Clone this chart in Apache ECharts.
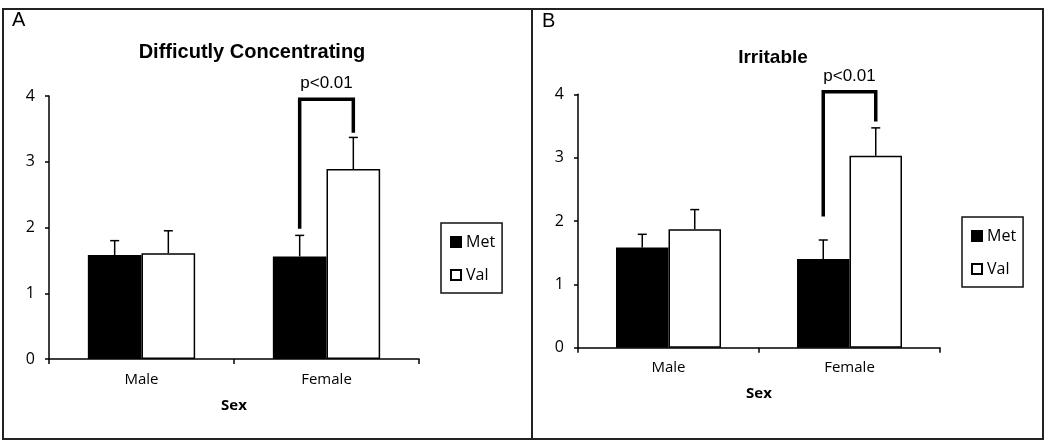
<!DOCTYPE html>
<html><head><meta charset="utf-8">
<script src="https://cdn.jsdelivr.net/npm/echarts@6/dist/echarts.min.js"></script>
<style>html,body{margin:0;padding:0;background:#fff}#c{width:1050px;height:444px}</style>
</head><body><div id="c"></div>
<script>
// ---- data ----
const categories = ['Male', 'Female'];
const seriesNames = ['Met', 'Val'];
const yTicks = [0, 1, 2, 3, 4];
const titleA = 'Difficutly Concentrating';
const titleB = 'Irritable';
const panelA = 'A';
const panelB = 'B';
const xName = 'Sex';
const aMet = [1.58, 1.56];
const aMetErr = [0.22, 0.32];
const aVal = [1.61, 2.89];
const aValErr = [0.34, 0.48];
const bMet = [1.58, 1.40];
const bMetErr = [0.21, 0.30];
const bVal = [1.87, 3.03];
const bValErr = [0.31, 0.44];
const sigLabel = 'p<0.01';
// category index, left leg bottom, bracket top, right leg bottom
const aSig = [1, 1.98, 3.95, 3.44];
const bSig = [1, 2.07, 4.04, 3.57];

// ---- chart ----
const GAP = 0.42;
const LABEL_FONT = '"Open Sans", Lato, sans-serif';
const ARIAL = '"Liberation Sans", Arial, sans-serif';

function barCenter(api, idx, which) {
  const c = api.coord([idx, 0]);
  const band = api.size([1, 0])[0];
  const bw = band * (1 - GAP) / 2;
  return c[0] + which * bw / 2;
}

function barSeries(name, g, vals, fill) {
  return {
    type: 'bar', name: name, xAxisIndex: g, yAxisIndex: g, data: vals,
    barGap: '0%', barCategoryGap: (GAP * 100) + '%',
    itemStyle: { color: fill, borderColor: '#000', borderWidth: 1.5 },
    silent: true
  };
}

function errSeries(name, g, vals, errs, which) {
  return {
    type: 'custom', name: name + ' err', xAxisIndex: g, yAxisIndex: g, z: 3, silent: true,
    data: vals.map((v, i) => [i, v, errs[i]]),
    renderItem(params, api) {
      const i = api.value(0), v = api.value(1), e = api.value(2);
      const x = barCenter(api, i, which);
      const y0 = api.coord([i, v])[1];
      const y1 = api.coord([i, v + e])[1];
      return { type: 'group', children: [
        { type: 'line', shape: { x1: x, y1: y0, x2: x, y2: y1 }, style: { stroke: '#000', lineWidth: 1.5 } },
        { type: 'line', shape: { x1: x - 4.5, y1: y1, x2: x + 4.5, y2: y1 }, style: { stroke: '#000', lineWidth: 1.5 } }
      ]};
    }
  };
}

function sigSeries(g, sig, fs, off) {
  return {
    type: 'custom', name: 'sig' + g, xAxisIndex: g, yAxisIndex: g, clip: false, z: 4, silent: true,
    data: [sig],
    renderItem(params, api) {
      const i = api.value(0);
      const xl = barCenter(api, i, -1), xr = barCenter(api, i, 1);
      const yl = api.coord([i, api.value(1)])[1];
      const yt = api.coord([i, api.value(2)])[1];
      const yr = api.coord([i, api.value(3)])[1];
      return { type: 'group', children: [
        { type: 'polyline', shape: { points: [[xl, yl], [xl, yt], [xr, yt], [xr, yr]] },
          style: { stroke: '#000', lineWidth: 3.5, fill: null, lineJoin: 'miter' } },
        { type: 'text', style: { text: sigLabel, x: (xl + xr) / 2, y: yt - off, align: 'center', verticalAlign: 'middle',
          fontSize: fs, fontFamily: ARIAL, fill: '#000' } }
      ]};
    }
  };
}

function xAxis(g) {
  return {
    type: 'category', gridIndex: g, data: categories,
    axisLine: { lineStyle: { color: '#000', width: 1.5 } },
    axisTick: { show: true, alignWithLabel: false, length: 5, lineStyle: { color: '#000', width: 1.5 } },
    axisLabel: { interval: 0, margin: 13, fontSize: 15, color: '#000', fontFamily: LABEL_FONT },
    name: xName, nameLocation: 'middle', nameGap: 39,
    nameTextStyle: { fontSize: 15, fontWeight: 'bold', color: '#000', fontFamily: LABEL_FONT },
    splitLine: { show: false }
  };
}
function yAxis(g) {
  return {
    type: 'value', gridIndex: g, min: yTicks[0], max: yTicks[yTicks.length - 1], interval: 1,
    axisLine: { show: true, lineStyle: { color: '#000', width: 1.5 } },
    axisTick: { show: true, length: 4, lineStyle: { color: '#000', width: 1.5 } },
    axisLabel: { margin: 14, fontSize: 16, color: '#000', fontFamily: LABEL_FONT },
    splitLine: { show: false }
  };
}
function legend(left, top) {
  return {
    left: left, top: top, orient: 'vertical', data: seriesNames, icon: 'rect',
    itemWidth: 10, itemHeight: 10, itemGap: 17,
    padding: [11, 7, 10, 9], borderColor: '#111', borderWidth: 1.5, borderRadius: 0,
    textStyle: { fontSize: 16, color: '#000', fontFamily: LABEL_FONT },
    selectedMode: false
  };
}

const chart = echarts.init(document.getElementById('c'), null, { renderer: 'canvas' });
chart.setOption({
  animation: false,
  backgroundColor: '#fff',
  grid: [
    { left: 49, top: 96, width: 370, height: 263 },
    { left: 578, top: 94.3, width: 362, height: 253.4 }
  ],
  xAxis: [xAxis(0), xAxis(1)],
  yAxis: [yAxis(0), yAxis(1)],
  legend: [legend(441, 223), legend(962, 217)],
  series: [
    barSeries(seriesNames[0], 0, aMet, '#000'),
    barSeries(seriesNames[1], 0, aVal, '#fff'),
    barSeries(seriesNames[0], 1, bMet, '#000'),
    barSeries(seriesNames[1], 1, bVal, '#fff'),
    errSeries('A Met', 0, aMet, aMetErr, -1),
    errSeries('A Val', 0, aVal, aValErr, 1),
    errSeries('B Met', 1, bMet, bMetErr, -1),
    errSeries('B Val', 1, bVal, bValErr, 1),
    sigSeries(0, aSig, 17, 16),
    sigSeries(1, bSig, 17, 15)
  ],
  graphic: [
    { type: 'rect', shape: { x: 3, y: 9, width: 1040, height: 430 }, style: { stroke: '#222', lineWidth: 2, fill: null }, silent: true },
    { type: 'line', shape: { x1: 532, y1: 9, x2: 532, y2: 439 }, style: { stroke: '#222', lineWidth: 2 }, silent: true },
    { type: 'text', x: 12, y: 20, style: { text: panelA, fontSize: 20, fontFamily: ARIAL, fill: '#000', verticalAlign: 'middle' } },
    { type: 'text', x: 542, y: 21, style: { text: panelB, fontSize: 20, fontFamily: ARIAL, fill: '#000', verticalAlign: 'middle' } },
    { type: 'text', x: 252, y: 52, style: { text: titleA, fontSize: 20, fontWeight: 'bold', fontFamily: ARIAL, fill: '#000', align: 'center', verticalAlign: 'middle' } },
    { type: 'text', x: 773, y: 58, style: { text: titleB, fontSize: 19, fontWeight: 'bold', fontFamily: ARIAL, fill: '#000', align: 'center', verticalAlign: 'middle' } }
  ]
});
</script>
</body></html>
